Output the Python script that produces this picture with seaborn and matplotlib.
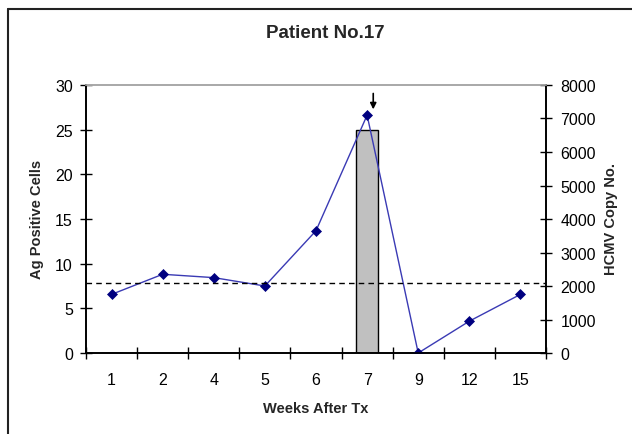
import pandas as pd
import seaborn as sns
import matplotlib.pyplot as plt
from matplotlib.lines import Line2D
from matplotlib.ticker import FixedLocator, NullFormatter

weeks = [1, 2, 4, 5, 6, 7, 9, 12, 15]
ag_cells = [0, 0, 0, 0, 0, 25, 0, 0, 0]
hcmv_copies = [1750, 2350, 2250, 2000, 3650, 7100, 0, 950, 1750]
threshold_copies = 2100
left_ticks = [0, 5, 10, 15, 20, 25, 30]
right_ticks = [0, 1000, 2000, 3000, 4000, 5000, 6000, 7000, 8000]

sns.set_theme(style="white")
plt.rcParams['font.family'] = ['Liberation Sans', 'DejaVu Sans']

df = pd.DataFrame({'week': weeks, 'ag': ag_cells, 'copies': hcmv_copies})
df['pos'] = range(len(df))

fig = plt.figure(figsize=(6.32, 4.35), dpi=100)
ax = fig.add_axes([0.1361, 0.1862, 0.7278, 0.6161])
ax2 = ax.twinx()

sns.barplot(data=df, x='pos', y='ag', ax=ax, color='#c0c0c0', width=0.43,
            edgecolor='black', linewidth=1, saturation=1)
sns.lineplot(data=df, x='pos', y='copies', ax=ax2, color='#3a3ab4', linewidth=1,
             marker='D', markersize=5, markerfacecolor='#000080',
             markeredgecolor='#000080', markeredgewidth=0.5)
ax2.axhline(threshold_copies, color='black', linestyle=(0, (4, 3)), linewidth=1)

# arrow over the peak
ax2.annotate('', xy=(5.12, 7190), xytext=(5.12, 7830),
             arrowprops=dict(arrowstyle='-|>', color='black', lw=1.2, mutation_scale=9))

ax.set_xlim(-0.5, len(weeks) - 0.5)
ax.set_ylim(0, 30)
ax2.set_ylim(0, 8000)
ax.set_yticks(left_ticks)
ax2.set_yticks(right_ticks)

ax.set_xticks(list(df['pos']))
ax.set_xticklabels([str(w) for w in weeks])
ax.xaxis.set_minor_locator(FixedLocator([p - 0.5 for p in range(len(weeks) + 1)]))
ax.xaxis.set_minor_formatter(NullFormatter())
ax.tick_params(axis='x', which='major', length=0, pad=14, labelsize=11.5, colors='black')
ax.tick_params(axis='x', which='minor', bottom=True, direction='inout', length=8,
               width=1, color='black')
ax.tick_params(axis='y', which='major', left=True, direction='inout', length=8,
               width=1, pad=5.5, labelsize=11.5, colors='black')
ax2.tick_params(axis='y', which='major', right=True, direction='inout', length=8,
                width=1, pad=6.5, labelsize=11.5, colors='black')

ax.set_xlabel('')
ax.set_ylabel('')
ax2.set_xlabel('')
ax2.set_ylabel('')
ax.grid(False)
ax2.grid(False)

for a in (ax, ax2):
    a.spines['top'].set_color('#a8a8a8')
    a.spines['top'].set_linewidth(1.2)
    for s in ('left', 'bottom', 'right'):
        a.spines[s].set_color('black')
        a.spines[s].set_linewidth(1.2)

fig.text(0.514, 0.924, 'Patient No.17', ha='center', va='center',
         fontsize=13.5, fontweight='bold')
fig.text(0.0585, 0.4966, 'Ag Positive Cells', ha='center', va='center',
         rotation=90, fontsize=10.5, fontweight='bold')
fig.text(0.967, 0.4966, 'HCMV Copy No.', ha='center', va='center',
         rotation=90, fontsize=10.5, fontweight='bold')
fig.text(0.499, 0.0598, 'Weeks After Tx', ha='center', va='center',
         fontsize=10.5, fontweight='bold')

# chart area border (cut off on the right and bottom)
fig.add_artist(Line2D([0.0127, 0.0127], [0, 0.978], transform=fig.transFigure,
                      color='#222222', linewidth=1.5))
fig.add_artist(Line2D([0.0127, 1.0], [0.978, 0.978], transform=fig.transFigure,
                      color='#222222', linewidth=1.5))

fig.savefig('out.png', dpi=100)
